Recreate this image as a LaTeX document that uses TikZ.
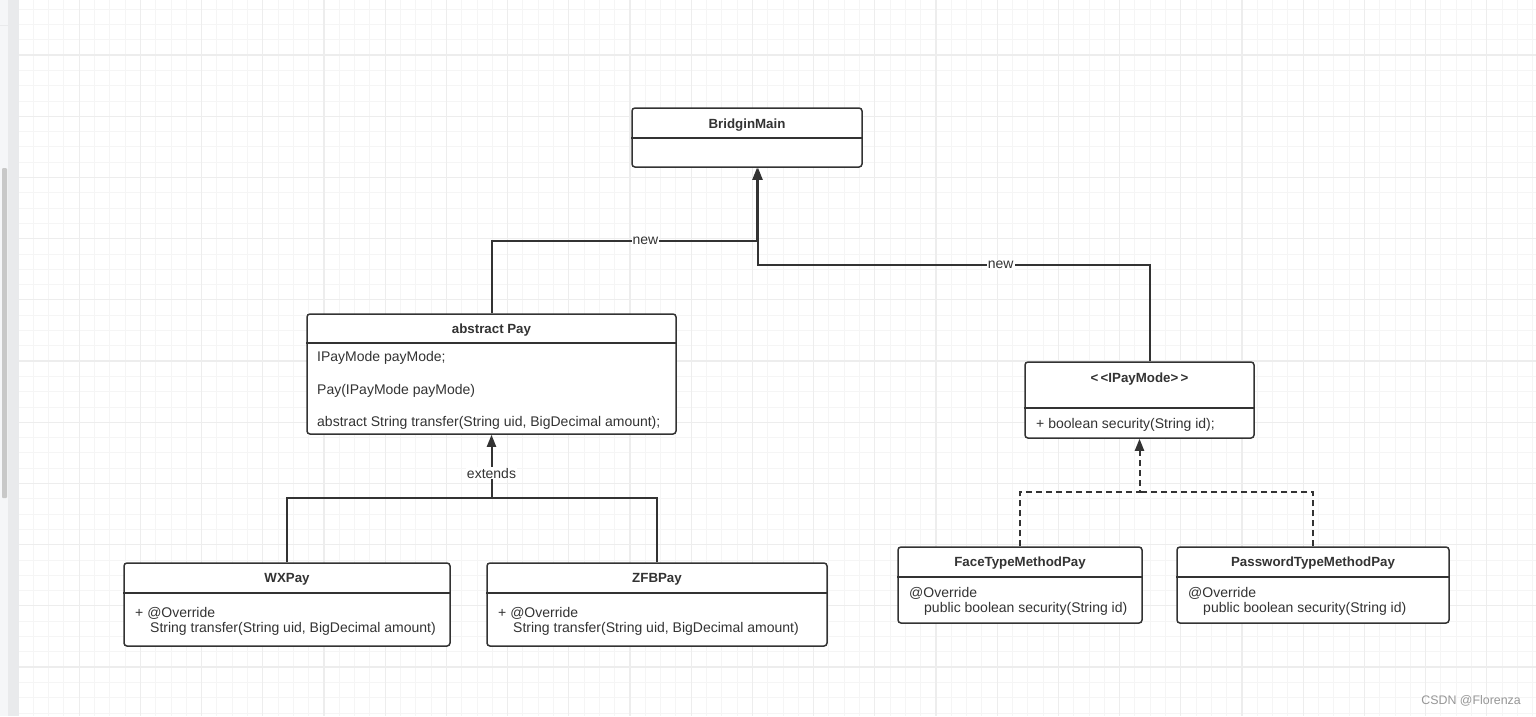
\documentclass[tikz,border=0pt]{standalone}
\usepackage{fontspec}
\setmainfont{Liberation Sans}
\usetikzlibrary{positioning,arrows.meta}
\definecolor{linegray}{RGB}{51,51,51}
\definecolor{gridminor}{RGB}{245,245,245}
\definecolor{gridmajor}{RGB}{237,237,237}
\definecolor{panel}{RGB}{245,246,248}
\definecolor{paneledge}{RGB}{233,234,236}
\definecolor{scroll}{RGB}{200,200,200}
\definecolor{mark}{RGB}{150,150,150}
\newcommand*{\umlfont}{\fontsize{14}{16}\selectfont}
\newcommand*{\umltitlefont}{\fontsize{13.3}{16}\selectfont}
\tikzset{%
  umlbox/.style={draw=linegray, line width=1.5pt, rounded corners=3pt, fill=white, inner sep=0pt},% class box
  divider/.style={draw=linegray, line width=1.5pt},% line under the class name
  title/.style={font=\bfseries\umltitlefont, text=linegray, inner sep=0pt},
  member/.style={anchor=west, font=\umlfont, text=linegray, inner sep=0pt},
  link/.style={draw=linegray, line width=2pt},
  assoc/.style={link, -{Triangle[length=12pt,width=9pt]}},% filled arrow head
  realize/.style={assoc, dash pattern=on 6pt off 4pt},% dashed to the interface
  lbl/.style={fill=white, font=\umlfont, text=linegray, inner sep=1pt}
}

\begin{document}
\begin{tikzpicture}[x=1pt, y=-1pt]
\useasboundingbox (0,0) rectangle (1536,716);
\fill[white] (0,0) rectangle (1536,716);

% grid of the canvas
\begin{scope}
\clip (19,0) rectangle (1536,716);
\foreach \k in {0,...,99}
  \draw[gridminor, line width=1pt] ({18+15.3*\k},0) -- ({18+15.3*\k},716);
\foreach \k in {0,...,47}
  \draw[gridminor, line width=1pt] (19,{9.2+15.3*\k}) -- (1536,{9.2+15.3*\k});
\foreach \k in {0,...,24}
  \draw[gridmajor, line width=1.2pt] ({18+61.2*\k},0) -- ({18+61.2*\k},716);
\foreach \k in {0,...,11}
  \draw[gridmajor, line width=1.2pt] (19,{55+61.2*\k}) -- (1536,{55+61.2*\k});
\end{scope}

% side panel
\fill[panel] (0,0) rectangle (8,716);
\fill[paneledge] (8,0) rectangle (19,716);
\draw[paneledge, line width=1pt] (0,25) -- (8,25);
\fill[scroll, rounded corners=1pt] (2,168) rectangle (7,498);

% classes
\node[umlbox, minimum width=230pt, minimum height=59pt] (main) at (747,137.5) {};
\draw[divider] (main.west |- 0,138) -- (main.east |- 0,138);
\node[title] (maint) at (747,125) {BridginMain};

\node[umlbox, minimum width=369pt, minimum height=120pt] (pay) at (491.5,374) {};
\draw[divider] (pay.west |- 0,343) -- (pay.east |- 0,343);
\node[title] (payt) at (491.5,330) {abstract Pay};
\node[member] (paya) at (317,358) {IPayMode payMode;};
\node[member] (payb) at (317,391) {Pay(IPayMode payMode)};
\node[member] (payc) at (317,423) {abstract String transfer(String uid, BigDecimal amount);};

\node[umlbox, minimum width=229pt, minimum height=76pt] (mode) at (1139.5,400) {};
\draw[divider] (mode.west |- 0,408) -- (mode.east |- 0,408);
\node[title] (modet) at (1139.5,379) {<\,<IPayMode>\,>};
\node[member] (modea) at (1036,425) {+ boolean security(String id);};

\node[umlbox, minimum width=326pt, minimum height=83pt] (wx) at (287,604.5) {};
\draw[divider] (wx.west |- 0,593) -- (wx.east |- 0,593);
\node[title] (wxt) at (287,579) {WXPay};
\node[member] (wxa) at (135,613) {+ @Override};
\node[member] (wxb) at (150,629) {String transfer(String uid, BigDecimal amount)};

\node[umlbox, minimum width=340pt, minimum height=83pt] (zfb) at (657,604.5) {};
\draw[divider] (zfb.west |- 0,593) -- (zfb.east |- 0,593);
\node[title] (zfbt) at (657,579) {ZFBPay};
\node[member] (zfba) at (498,613) {+ @Override};
\node[member] (zfbb) at (513,629) {String transfer(String uid, BigDecimal amount)};

\node[umlbox, minimum width=244pt, minimum height=76pt] (face) at (1020,585) {};
\draw[divider] (face.west |- 0,577) -- (face.east |- 0,577);
\node[title] (facet) at (1020,563) {FaceTypeMethodPay};
\node[member] (facea) at (909,593) {@Override};
\node[member] (faceb) at (924,609) {public boolean security(String id)};

\node[umlbox, minimum width=272pt, minimum height=76pt] (pwd) at (1313,585) {};
\draw[divider] (pwd.west |- 0,577) -- (pwd.east |- 0,577);
\node[title] (pwdt) at (1313,563) {PasswordTypeMethodPay};
\node[member] (pwda) at (1188,593) {@Override};
\node[member] (pwdb) at (1203,609) {public boolean security(String id)};

% connectors
\coordinate (jmain1) at (757,241);
\coordinate (jmain2) at (758,265);
\coordinate (jext) at (491.5,498);
\coordinate (jreal) at (1139.5,492);

\draw[assoc] (pay.north) |- node[lbl, pos=0.79] {new} (jmain1) -- ([xshift=10pt]main.south);
\draw[assoc] ([xshift=10pt]mode.north) |- node[lbl, pos=0.69] {new} (jmain2) -- ([xshift=11pt]main.south);

\draw[link] (zfb.north) |- (jext);
\draw[assoc] (wx.north) |- (jext) -- node[lbl, pos=0.39] {extends} (pay.south);

\draw[realize, -] (pwd.north) |- (jreal);
\draw[realize] (face.north) |- (jreal) -- (mode.south);

\node[anchor=east, font=\fontsize{12.4}{14}\selectfont, text=mark, inner sep=0pt] (wm) at (1521,701) {CSDN @Florenza};
\end{tikzpicture}
\end{document}
